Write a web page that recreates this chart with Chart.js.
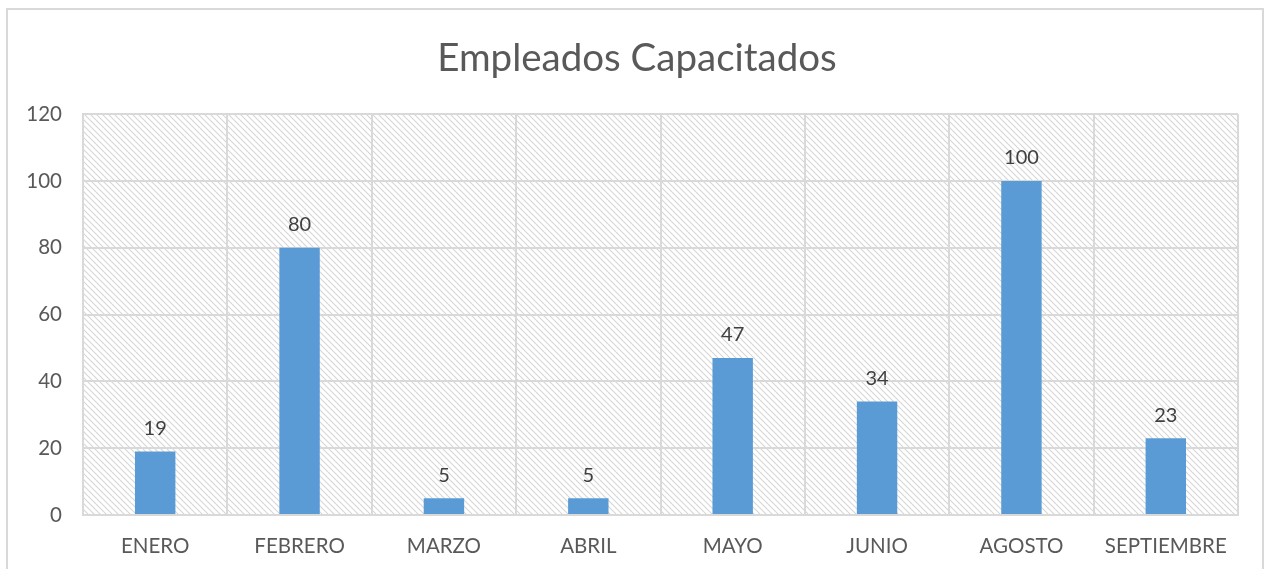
<!DOCTYPE html>
<html>
<head>
<meta charset="utf-8">
<script src="https://cdn.jsdelivr.net/npm/chart.js@4/dist/chart.umd.min.js"></script>
<style>
  html, body { margin: 0; padding: 0; background: #fff; }
  #wrap { width: 1267px; height: 569px; position: relative; }
</style>
</head>
<body>
<div id="wrap"><canvas id="chart" width="1267" height="569"></canvas></div>
<script>
// data
const meses = ['ENERO', 'FEBRERO', 'MARZO', 'ABRIL', 'MAYO', 'JUNIO', 'AGOSTO', 'SEPTIEMBRE'];
const capacitados = [19, 80, 5, 5, 47, 34, 100, 23];
const yTicks = [0, 20, 40, 60, 80, 100, 120];

const fuente = 'Lato, "Liberation Sans", sans-serif';
const gris = '#d9d9d9';

// hatch pattern for plot background
function makeHatch() {
    let c = document.createElement('canvas');
    c.width = 6; c.height = 6;
    let x = c.getContext('2d');
    x.fillStyle = '#ffffff';
    x.fillRect(0, 0, 6, 6);
    x.strokeStyle = '#d6d6d6';
    x.lineWidth = 1.1;
    x.beginPath();
    x.moveTo(-1, -1); x.lineTo(7, 7);
    x.moveTo(-1, 5); x.lineTo(1, 7);
    x.moveTo(5, -1); x.lineTo(7, 1);
    x.stroke();
    return x.createPattern(c, 'repeat');
}

const fondo = {
    id: 'fondo',
    beforeDraw(chart) {
        const ctx = chart.ctx;
        const a = chart.chartArea;
        ctx.save();
        // outer chart border
        ctx.strokeStyle = gris;
        ctx.lineWidth = 2;
        ctx.strokeRect(7, 9, 1256, 580);
        ctx.fillStyle = makeHatch();
        ctx.fillRect(a.left, a.top, a.right - a.left, a.bottom - a.top);
        ctx.restore();
    }
};

const etiquetas = {
    id: 'etiquetas',
    afterDatasetsDraw(chart) {
        const ctx = chart.ctx;
        const meta = chart.getDatasetMeta(0);
        ctx.save();
        ctx.fillStyle = '#404040';
        ctx.font = '20px ' + fuente;
        ctx.textAlign = 'center';
        ctx.textBaseline = 'bottom';
        meta.data.forEach(function(bar, i) {
            ctx.fillText(String(capacitados[i]), bar.x, bar.y - 13);
        });
        ctx.restore();
    }
};

const config = {
    type: 'bar',
    data: {
        labels: meses,
        datasets: [{
            label: 'Empleados',
            data: capacitados,
            backgroundColor: '#5b9bd5',
            categoryPercentage: 1,
            barPercentage: 0.28
        }]
    },
    options: {
        responsive: false,
        animation: false,
        layout: { padding: { left: 7, right: 0, top: 0, bottom: 0 } },
        plugins: {
            legend: { display: false },
            tooltip: { enabled: false },
            title: {
                display: true,
                text: 'Empleados Capacitados',
                color: '#595959',
                font: { family: fuente, size: 38.5, weight: 'normal' },
                padding: { top: 35, bottom: 33 }
            }
        },
        scales: {
            x: {
                grid: { color: gris, lineWidth: 2, drawTicks: false, offset: true },
                border: { color: gris, width: 2 },
                ticks: { color: '#595959', font: { family: fuente, size: 20.5 }, padding: 19, maxRotation: 0 },
                afterFit(scale) { scale.height = 54; }
            },
            y: {
                min: 0,
                max: 120,
                grid: { color: gris, lineWidth: 2, drawTicks: false },
                border: { color: gris, width: 2 },
                afterBuildTicks(scale) { scale.ticks = yTicks.map(v => ({ value: v })); },
                ticks: { color: '#595959', font: { family: fuente, size: 20.5 }, padding: 21 },
                afterFit(scale) { scale.width = 76; }
            },
            // empty right axis, only keeps the right margin
            derecha: {
                position: 'right',
                min: 0,
                max: 120,
                grid: { display: false },
                border: { display: false },
                ticks: { display: false },
                afterFit(scale) { scale.width = 29; }
            }
        }
    },
    plugins: [fondo, etiquetas]
};

new Chart(document.getElementById('chart'), config);
</script>
</body>
</html>
